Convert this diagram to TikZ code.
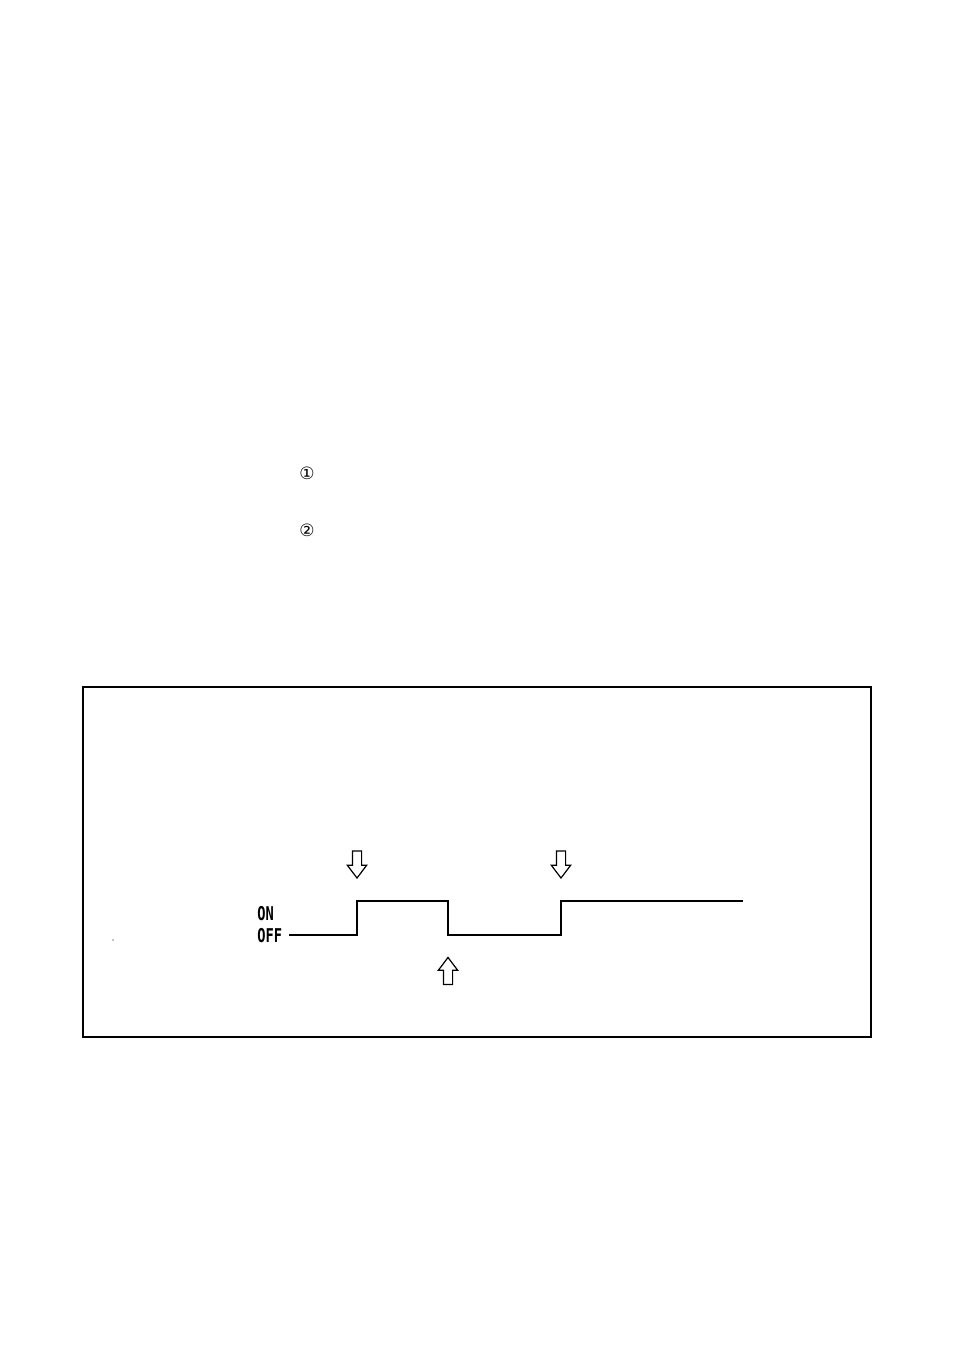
\documentclass[tikz,border=0pt]{standalone}
\usepackage{fontspec}
\usetikzlibrary{shapes.arrows}
\newfontfamily\symbolFont{DejaVu Sans}
\newfontfamily\levelFont{DejaVu Sans Mono}
\tikzstyle{hollowArrow}=[shape = single arrow, draw, line width = 0.6pt, inner sep = 2pt, minimum height = 13.5pt, minimum width = 9pt, single arrow head extend = 2.5pt, single arrow tip angle = 74]
\tikzstyle{levelLabel}=[anchor = west, inner sep = 0pt, xscale = 0.72, font = \levelFont\bfseries\fontsize{9.5}{9.5}\selectfont]
\begin{document}
\begin{tikzpicture}[x = 0.5pt, y = -0.5pt]
\useasboundingbox (0,0) rectangle (954,1351);
\tikzstyle{circledNum}=[inner sep = 0pt, font = \symbolFont\fontsize{8.5}{8.5}\selectfont]
\tikzstyle{signalLine}=[line width = 0.7pt]
\node[circledNum] (n1) at (307,473) {①};
\node[circledNum] (n2) at (307,530) {②};
\draw[line width = 1pt] (83,687) rectangle (871,1037);
\fill (113,940) circle (0.6);
\node[levelLabel] (on) at (257,914) {ON};
\node[levelLabel] (off) at (257,936) {OFF};
\coordinate (s0) at (289,935);
\coordinate (s1) at (357,935);
\coordinate (s2) at (357,901);
\coordinate (s3) at (448,901);
\coordinate (s4) at (448,935);
\coordinate (s5) at (561,935);
\coordinate (s6) at (561,901);
\coordinate (s7) at (743,901);
\draw[signalLine] (s0) -- (s1) -- (s2) -- (s3) -- (s4) -- (s5) -- (s6) -- (s7);
\node[hollowArrow, shape border rotate = 270] (a1) at (357,861.5) {};
\node[hollowArrow, shape border rotate = 270] (a2) at (561,861.5) {};
\node[hollowArrow, shape border rotate = 90] (a3) at (448,974) {};
\end{tikzpicture}
\end{document}
